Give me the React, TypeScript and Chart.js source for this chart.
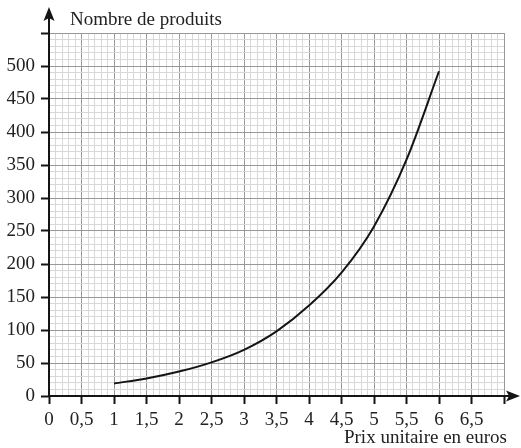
import React, { useEffect, useRef } from 'react';
import { Chart, registerables } from 'chart.js';
Chart.register(...registerables);

// Data
const prices = [1, 1.5, 2, 2.5, 3, 3.5, 4, 4.5, 5, 5.5, 6];
const products = [19, 26.5, 37, 51, 70, 98, 137, 187, 257, 358, 492];

const xMin = 0;
const xMax = 7;
const xMinorStep = 0.1;
const xMajorStep = 0.5;
const xLastLabel = 6.5;

const yMin = 0;
const yMax = 550;
const yMinorStep = 10;
const yMajorStep = 50;
const yLastLabel = 500;

const xTitle = 'Prix unitaire en euros';
const yTitle = 'Nombre de produits';

const FONT = '"Liberation Serif", "Times New Roman", serif';
const MAJOR = '#989898';
const MINOR = '#d8d8d8';
const INK = '#141414';

const fmt = (v: number) => String(Math.round(v * 10) / 10).replace('.', ',');
const isMultiple = (v: number, step: number) => Math.abs(v / step - Math.round(v / step)) < 1e-6;

export default function App() {
  const ref = useRef<HTMLCanvasElement>(null);

  useEffect(() => {
    if (!ref.current) return;

    const decor = {
      id: 'decor',
      afterDraw(chart: any) {
        const { ctx, scales } = chart;
        const x0 = scales.x.getPixelForValue(0);
        const y0 = scales.y.getPixelForValue(0);
        ctx.save();
        ctx.strokeStyle = INK;
        ctx.fillStyle = INK;
        ctx.lineWidth = 2;
        ctx.beginPath();
        ctx.moveTo(x0, y0);
        ctx.lineTo(x0, 16);
        ctx.moveTo(x0, y0);
        ctx.lineTo(512, y0);
        ctx.stroke();
        // y arrow
        ctx.beginPath();
        ctx.moveTo(x0, 7);
        ctx.lineTo(x0 - 5.5, 21);
        ctx.lineTo(x0, 18);
        ctx.lineTo(x0 + 5.5, 21);
        ctx.closePath();
        ctx.fill();
        // x arrow
        ctx.beginPath();
        ctx.moveTo(520, y0);
        ctx.lineTo(506, y0 - 5.5);
        ctx.lineTo(509, y0);
        ctx.lineTo(506, y0 + 5.5);
        ctx.closePath();
        ctx.fill();
        // titles
        ctx.font = `19px ${FONT}`;
        ctx.textBaseline = 'alphabetic';
        ctx.textAlign = 'left';
        ctx.fillStyle = '#222';
        ctx.fillText(yTitle, 70, 25);
        ctx.textAlign = 'right';
        ctx.fillText(xTitle, 507, 443);
        ctx.restore();
      },
    };

    const chart = new Chart(ref.current, {
      type: 'line',
      data: {
        datasets: [
          {
            data: prices.map((p, i) => ({ x: p, y: products[i] })),
            borderColor: INK,
            borderWidth: 2,
            pointRadius: 0,
            fill: false,
            cubicInterpolationMode: 'monotone',
          },
        ],
      },
      options: {
        animation: false,
        responsive: false,
        events: [],
        layout: { padding: { top: 33, right: 17, left: 0, bottom: 0 } },
        plugins: { legend: { display: false }, tooltip: { enabled: false } },
        scales: {
          x: {
            type: 'linear',
            min: xMin,
            max: xMax,
            afterFit: (s: any) => { s.height = 52; },
            border: { display: false },
            grid: {
              color: (c: any) => (isMultiple(c.tick.value, xMajorStep) ? MAJOR : MINOR),
              lineWidth: 1,
              tickLength: 8,
              tickColor: (c: any) => (isMultiple(c.tick.value, xMajorStep) ? INK : 'rgba(0,0,0,0)'),
              tickWidth: 2,
            },
            ticks: {
              stepSize: xMinorStep,
              autoSkip: false,
              maxRotation: 0,
              padding: 5,
              color: '#222',
              font: { family: FONT, size: 19 },
              callback: (v: any) => {
                const n = Number(v);
                return isMultiple(n, xMajorStep) && n <= xLastLabel + 1e-6 ? fmt(n) : '';
              },
            },
          },
          y: {
            type: 'linear',
            min: yMin,
            max: yMax,
            afterFit: (s: any) => { s.width = 49; },
            border: { display: false },
            grid: {
              color: (c: any) => (isMultiple(c.tick.value, yMajorStep) ? MAJOR : MINOR),
              lineWidth: 1,
              tickLength: 8,
              tickColor: (c: any) => (isMultiple(c.tick.value, yMajorStep) ? INK : 'rgba(0,0,0,0)'),
              tickWidth: 2,
            },
            ticks: {
              stepSize: yMinorStep,
              autoSkip: false,
              padding: 6,
              color: '#222',
              font: { family: FONT, size: 19 },
              callback: (v: any) => {
                const n = Number(v);
                return isMultiple(n, yMajorStep) && n <= yLastLabel ? String(n) : '';
              },
            },
          },
        },
      },
      plugins: [decor],
    } as any);

    return () => chart.destroy();
  }, []);

  return (
    <div style={{ position: 'absolute', left: 0, top: 0, width: 521, height: 448, background: '#fff' }}>
      <canvas ref={ref} width={521} height={448} style={{ display: 'block' }} />
    </div>
  );
}
